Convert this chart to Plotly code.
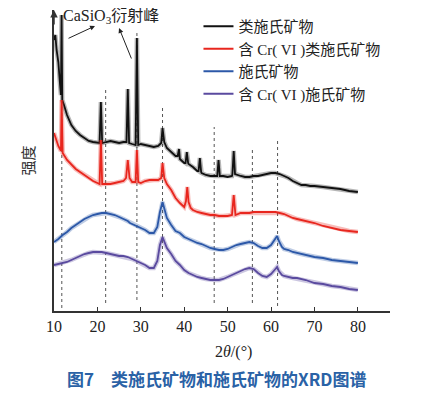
import plotly.graph_objects as go

# ---------------- data (intensity in arbitrary units) ----------------
black_x = [10.0, 10.3, 10.6, 11.0, 11.4, 11.6, 11.75, 11.9, 12.3, 13, 14, 15, 16, 17, 18, 19, 20, 20.5, 20.8, 21.1,
           22, 23, 24, 25, 26, 26.7, 27.0, 27.3, 28, 28.8, 29.1, 29.4, 30, 31, 32, 33, 34, 34.7, 35.0, 35.4,
           36, 37, 38, 38.5, 38.8, 39, 40, 40.3, 40.6, 40.9, 41, 42, 43, 43.3, 43.6, 43.9, 44, 45, 46, 47, 47.6, 47.9, 48.2,
           49, 50, 51, 51.1, 51.4, 51.7, 53, 54, 55, 56, 57, 58, 59, 60, 61, 62, 63, 64, 65, 66, 67, 68, 69, 70,
           72, 74, 76, 78, 80]
black_y = [271, 276, 261, 249, 226, 216, 296, 211, 206, 196, 186, 180, 176, 173, 170, 169, 168, 168, 209, 168,
           169, 170, 169, 168, 169, 169, 222, 168, 167, 166, 273, 166, 167, 166, 165, 164, 165, 168, 183, 169,
           163, 159, 155, 155, 162, 152, 148, 148, 159, 148, 147, 144, 140, 140, 153, 139, 138, 136, 135, 135, 135, 151, 135,
           135, 134, 135, 137, 160, 137, 135, 134, 134, 135, 135, 136, 137, 138, 138, 137, 135, 133, 130, 128, 126, 126, 125, 125,
           124, 123, 122, 120, 119]

red_x = [10.0, 10.5, 11.0, 11.5, 11.6, 11.75, 11.9, 12, 13, 14, 15, 16, 17, 18, 19, 20, 20.5, 20.8, 21.1,
         22, 23, 24, 25, 26, 26.6, 27.0, 27.4, 28, 28.8, 29.1, 29.4, 30, 31, 32, 33, 34, 34.7, 35.0, 35.4,
         36, 37, 38, 39, 40, 40.4, 40.7, 41.0, 41.5, 42, 43, 44, 45, 46, 47, 48, 49, 50, 51, 51.4, 51.8, 52.5,
         53, 54, 55, 56, 57, 58, 59, 60, 61, 62, 63, 64, 65, 66, 67, 68, 70, 72, 74, 76, 78, 80]
red_y = [178, 171, 165, 161, 160, 211, 159, 158, 151, 146, 142, 139, 136, 133, 130, 128, 127, 171, 127,
         127, 127, 128, 129, 130, 133, 151, 133, 129, 129, 161, 129, 128, 130, 131, 131, 131, 133, 148, 133,
         127, 121, 113, 108, 104, 110, 124, 109, 103, 101, 99, 98, 97, 96, 96, 95, 95, 95, 96, 116, 96, 97,
         98, 98, 98, 99, 99, 99, 99, 99, 99, 98, 97, 95, 93, 92, 91, 90, 88, 85, 83, 81, 80, 79]

blue_x = [10, 11, 12, 13, 14, 15, 16, 17, 18, 19, 20, 21, 22, 23, 24, 25, 26, 27, 27.5, 28, 29, 30, 31, 32, 33,
          33.8, 34.4, 35.0, 35.5, 36, 37, 38, 39, 40, 41, 42, 43, 44, 45, 46, 47, 48, 49, 50, 51, 52, 53, 54,
          55, 56, 57, 58, 59, 60, 61, 61.4, 61.8, 62.5, 63, 64, 65, 66, 68, 70, 72, 74, 76, 78, 80]
blue_y = [69, 72, 76, 79, 83, 86, 89, 92, 94, 96, 97, 98, 98, 97, 96, 94, 92, 90, 88, 87, 85, 83, 81, 78, 78,
          84, 99, 109, 101, 93, 86, 80, 78, 74, 72, 70, 68, 67, 65, 63, 62, 61, 61, 62, 64, 66, 67, 68,
          69, 68, 65, 63, 63, 66, 72, 75, 70, 64, 62, 61, 59, 58, 56, 54, 53, 51, 50, 49, 48]

purple_x = [10, 11, 12, 13, 14, 15, 16, 17, 18, 19, 20, 21, 22, 23, 24, 25, 26, 27, 28, 29, 30, 31, 32, 33,
            33.8, 34.4, 35.0, 35.5, 36, 37, 38, 39, 40, 41, 42, 43, 44, 45, 46, 47, 48, 49, 50, 51, 52, 53,
            54, 55, 56, 57, 58, 59, 60, 61, 61.4, 61.8, 62.5, 63, 64, 65, 66, 68, 70, 72, 74, 76, 78, 80]
purple_y = [46, 47, 48, 49, 51, 53, 55, 57, 58, 59, 59, 59, 58, 57, 56, 55, 55, 54, 52, 50, 48, 46, 43, 43,
            50, 66, 74, 68, 63, 57, 50, 46, 41, 38, 36, 34, 33, 32, 31, 31, 31, 32, 34, 36, 38, 40,
            42, 43, 42, 38, 35, 34, 37, 42, 44, 40, 36, 35, 34, 33, 33, 31, 28, 27, 25, 24, 22, 21]

series_names = ["类施氏矿物", "含 Cr( VI )类施氏矿物", "施氏矿物", "含 Cr( VI )施氏矿物"]
series_colors = ["#111111", "#e8261e", "#2c58a8", "#5a4a9f"]

# reference (dotted) peak positions and their vertical extents
vline_x = [11.8, 21.9, 29.1, 35.0, 46.9, 55.7, 61.5]
vline_top = [211, 223, 278, 206, 184, 163, 173]
vline_bottom = [3, 8, 11, 14, 8, 8, 5]

tick_vals = [10, 20, 30, 40, 50, 60, 70, 80]
tick_text = ["10", "20", "30", "40", "50", "60", "70", "80"]

# ---------------- figure ----------------
fig = go.Figure()

vx, vy = [], []
for x, t, b in zip(vline_x, vline_top, vline_bottom):
    vx += [x, x, None]
    vy += [b, t, None]
fig.add_trace(go.Scatter(x=vx, y=vy, mode="lines", showlegend=False, hoverinfo="skip",
                         line=dict(color="#555555", width=1, dash="dot")))

for xs, ys, name, col in zip([black_x, red_x, blue_x, purple_x],
                             [black_y, red_y, blue_y, purple_y],
                             series_names, series_colors):
    # soft band to mimic the noisy thickness of the measured pattern
    fig.add_trace(go.Scatter(x=xs, y=ys, mode="lines", showlegend=False, hoverinfo="skip",
                             opacity=0.3, line=dict(color=col, width=4.5)))
    fig.add_trace(go.Scatter(x=xs, y=ys, mode="lines", name=name,
                             line=dict(color=col, width=1.8)))

serif = "Liberation Serif, Noto Sans CJK SC"

fig.update_layout(
    width=427, height=386,
    margin=dict(l=46, r=45, t=2, b=83),
    paper_bgcolor="white", plot_bgcolor="white",
    showlegend=True,
    legend=dict(x=0.43, y=1.0, xanchor="left", yanchor="top",
                bgcolor="rgba(0,0,0,0)", font=dict(family=serif, size=15, color="#222"),
                tracegroupgap=0, itemwidth=30),
    xaxis=dict(range=[10, 87.4], showgrid=False, zeroline=False,
               showline=True, linecolor="#333", linewidth=1.5,
               ticks="inside", ticklen=4, tickcolor="#333",
               tickvals=tick_vals, ticktext=tick_text,
               tickfont=dict(family="Liberation Serif", size=16, color="#222")),
    yaxis=dict(range=[0, 301], showgrid=False, zeroline=False,
               showline=True, linecolor="#333", linewidth=1.5,
               showticklabels=False, ticks="",
               title=dict(text="强度", font=dict(family="Noto Sans CJK SC", size=15, color="#333"),
                          standoff=14)),
)

annotations = [
    # y-axis arrow head
    dict(x=10, y=301, ax=10, ay=285, xref="x", yref="y", axref="x", ayref="y",
         text="", showarrow=True, arrowhead=2, arrowsize=1, arrowwidth=1.5, arrowcolor="#333"),
    # CaSiO3 label and arrows
    dict(x=0.022, y=0.977, xref="paper", yref="paper", xanchor="left", yanchor="middle",
         text="CaSiO<sub>3</sub>衍射峰", showarrow=False,
         font=dict(family=serif, size=16, color="#222")),
    dict(x=19.45, y=285, ax=13.0, ay=272, xref="x", yref="y", axref="x", ayref="y",
         text="", showarrow=True, arrowhead=2, arrowsize=1, arrowwidth=1, arrowcolor="#222"),
    dict(x=24.98, y=283, ax=27.97, ay=251, xref="x", yref="y", axref="x", ayref="y",
         text="", showarrow=True, arrowhead=2, arrowsize=1, arrowwidth=1, arrowcolor="#222"),
    # x-axis title
    dict(x=0.533, y=-0.136, xref="paper", yref="paper", xanchor="center", yanchor="middle",
         text="2<i>θ</i>/(°)", showarrow=False,
         font=dict(family="Liberation Serif", size=16, color="#222")),
    # caption
    dict(x=0.485, y=-0.223, xref="paper", yref="paper", xanchor="center", yanchor="middle",
         text="<b>图7　类施氏矿物和施氏矿物的XRD图谱</b>", showarrow=False,
         font=dict(family="Noto Sans CJK SC", size=17, color="#2a62a6")),
]
fig.update_layout(annotations=annotations)

fig.write_html("out.html")
